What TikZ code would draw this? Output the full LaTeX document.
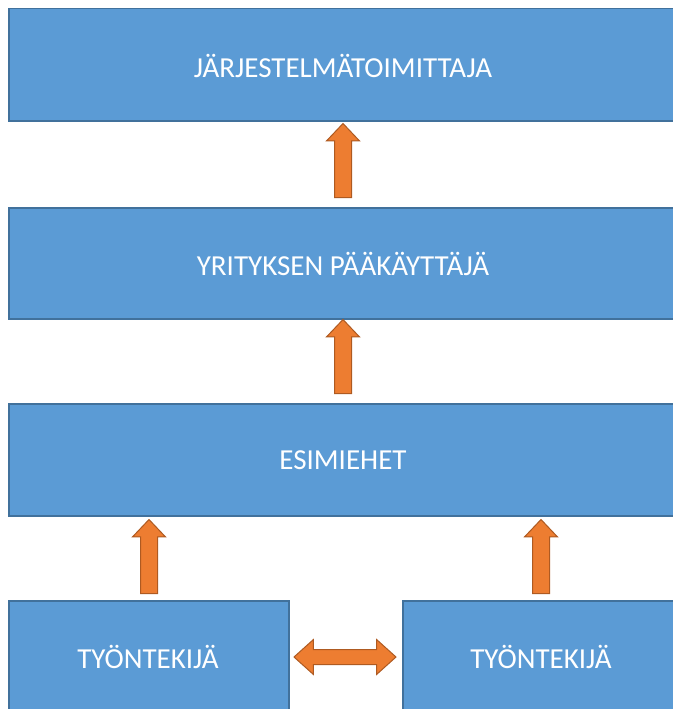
\documentclass[tikz,border=0pt]{standalone}
\usepackage{fontspec}
\setmainfont{Carlito}
\usetikzlibrary{shapes.arrows}
\definecolor{boxblue}{HTML}{5B9BD5}
\definecolor{boxedge}{HTML}{41719C}
\definecolor{arrorange}{HTML}{ED7D31}
\definecolor{arredge}{HTML}{AE5A21}
\begin{document}
\begin{tikzpicture}[x=1pt,y=-1pt,
  box/.style={draw=boxedge,fill=boxblue,line width=1.5pt,anchor=north west,inner sep=0pt},
  label/.style={text=white,font=\fontsize{29}{34}\selectfont,inner sep=0pt},
  uparrow/.style={shape=single arrow,draw=arredge,fill=arrorange,line width=1pt,
    minimum height=74pt,minimum width=32pt,single arrow head extend=8pt,
    single arrow tip angle=87,inner xsep=0pt,inner ysep=8pt,rotate=90},
  dblarrow/.style={shape=double arrow,draw=arredge,fill=arrorange,line width=1pt,
    minimum height=102pt,minimum width=34pt,double arrow head extend=10pt,
    double arrow tip angle=84,inner xsep=0pt,inner ysep=7pt}]
\useasboundingbox (0,0) rectangle (672,709);
\node[box,minimum width=672pt,minimum height=112pt] (sys) at (8,8) {};
\node[label] (syst) at (343,66) {JÄRJESTELMÄTOIMITTAJA};
\node[box,minimum width=672pt,minimum height=111pt] (adm) at (8,207) {};
\node[label] (admt) at (343,264) {YRITYKSEN PÄÄKÄYTTÄJÄ};
\node[box,minimum width=672pt,minimum height=112pt] (esi) at (8,403) {};
\node[label] (esit) at (343,460) {ESIMIEHET};
\node[box,minimum width=280pt,minimum height=130pt] (ty1) at (8,600) {};
\node[label] (ty1t) at (148,657) {TYÖNTEKIJÄ};
\node[box,minimum width=280pt,minimum height=130pt] (ty2) at (402,600) {};
\node[label] (ty2t) at (541,657) {TYÖNTEKIJÄ};
\node[uparrow] (a1) at (343,165) {};
\node[uparrow] (a2) at (343,361) {};
\node[uparrow] (a3) at (149,561) {};
\node[uparrow] (a4) at (541,561) {};
\node[dblarrow] (a5) at (345,657) {};
\end{tikzpicture}
\end{document}
